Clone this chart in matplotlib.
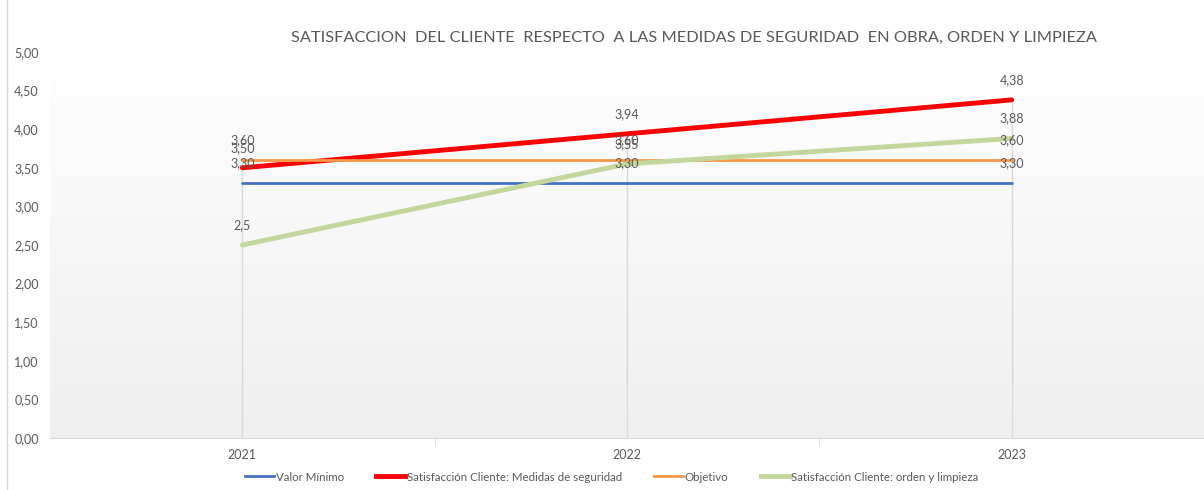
import numpy as np
import matplotlib
matplotlib.use("Agg")
import matplotlib.pyplot as plt
from matplotlib.lines import Line2D

plt.rcParams["font.family"] = ["Lato", "DejaVu Sans"]

years = ["2021", "2022", "2023"]
valor_minimo = [3.30, 3.30, 3.30]
medidas_seguridad = [3.50, 3.94, 4.38]
objetivo = [3.60, 3.60, 3.60]
orden_limpieza = [2.5, 3.55, 3.88]
orden_labels = ["2,5", "3,55", "3,88"]

series = [
    ("Valor Mínimo", valor_minimo, "#4472C4", 2.0, None),
    ("Satisfacción Cliente: Medidas de seguridad", medidas_seguridad, "#FF0000", 3.5, None),
    ("Objetivo", objetivo, "#F79646", 2.0, None),
    ("Satisfacción Cliente: orden y limpieza", orden_limpieza, "#C3D69B", 3.5, orden_labels),
]

text_color = "#595959"

fig = plt.figure(figsize=(12.04, 4.9), dpi=100)
ax = fig.add_axes([50 / 1204, 52 / 490, 1154 / 1204, 386 / 490])

# background gradient in plot area
grad = np.linspace(1.0, 0.0, 256).reshape(-1, 1)
ax.imshow(grad, extent=[-0.5, 2.5, 0, 5], aspect="auto", origin="lower",
          cmap=matplotlib.colors.LinearSegmentedColormap.from_list("g", ["#ffffff", "#efefef"]),
          zorder=0)

x = np.arange(len(years))
tops = np.max([s[1] for s in series], axis=0)
ax.vlines(x, 0, tops, color="#d9d9d9", lw=1, zorder=1)

for name, vals, color, lw, labels in series:
    ax.plot(x, vals, color=color, lw=lw, solid_capstyle="round", zorder=3)
    for i, v in enumerate(vals):
        lab = labels[i] if labels else f"{v:.2f}".replace(".", ",")
        ax.annotate(lab, (x[i], v), xytext=(0, 10), textcoords="offset points",
                    ha="center", va="bottom", fontsize=9, color=text_color, zorder=4)

ax.set_xlim(-0.5, 2.5)
ax.set_ylim(0, 5)
ax.set_yticks(np.arange(0, 5.01, 0.5))
ax.set_yticklabels([f"{v:.2f}".replace(".", ",") for v in np.arange(0, 5.01, 0.5)])
ax.set_xticks(x)
ax.set_xticklabels(years)
ax.set_xticks([0.5, 1.5], minor=True)
ax.tick_params(axis="x", which="major", length=0, pad=8, labelsize=9, labelcolor=text_color)
ax.tick_params(axis="x", which="minor", length=5, color="#d9d9d9", direction="out")
ax.tick_params(axis="y", length=0, pad=8, labelsize=9, labelcolor=text_color)
for side in ["top", "right", "left"]:
    ax.spines[side].set_visible(False)
ax.spines["bottom"].set_color("#d9d9d9")

fig.text(694 / 1204, 1 - 38 / 490,
         "SATISFACCION  DEL CLIENTE  RESPECTO  A LAS MEDIDAS DE SEGURIDAD  EN OBRA, ORDEN Y LIMPIEZA",
         ha="center", va="center", fontsize=11.8, color=text_color)

fig.add_artist(Line2D([7 / 1204, 7 / 1204], [0, 1], color="#d9d9d9", lw=1))

handles = [Line2D([0], [0], color=c, lw=lw) for _, _, c, lw, _ in series]
fig.legend(handles, [s[0] for s in series], loc="center", bbox_to_anchor=(612 / 1204, 1 - 477 / 490),
           ncol=4, frameon=False, fontsize=8.3, labelcolor=text_color, handlelength=2.5,
           handletextpad=0.15, columnspacing=2.8)

fig.savefig("out.png", dpi=100)
